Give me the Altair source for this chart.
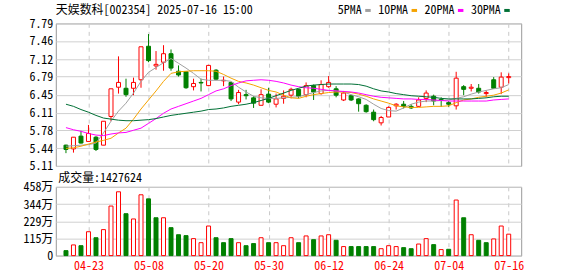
import json
import altair as alt
import pandas as pd

# ---------------- data ----------------
dates = ["04-18", "04-21", "04-22", "04-23", "04-24", "04-25", "04-28", "04-29", "04-30", "05-06",
         "05-07", "05-08", "05-09", "05-12", "05-13", "05-14", "05-15", "05-16", "05-19", "05-20",
         "05-21", "05-22", "05-23", "05-26", "05-27", "05-28", "05-29", "05-30", "06-03", "06-04",
         "06-05", "06-06", "06-09", "06-10", "06-11", "06-12", "06-13", "06-16", "06-17", "06-18",
         "06-19", "06-20", "06-23", "06-24", "06-25", "06-26", "06-27", "06-30", "07-01", "07-02",
         "07-03", "07-04", "07-07", "07-08", "07-09", "07-10", "07-11", "07-14", "07-15", "07-16"]

opens = [5.50, 5.43, 5.67, 5.57, 5.65, 5.50, 6.04, 6.59, 6.57, 6.57,
         6.73, 7.36, 6.99, 7.06, 7.22, 6.89, 6.88, 6.60, 6.68, 6.62,
         6.91, 6.71, 6.68, 6.31, 6.45, 6.39, 6.25, 6.46, 6.27, 6.38,
         6.44, 6.55, 6.45, 6.62, 6.47, 6.60, 6.56, 6.35, 6.43, 6.37,
         6.25, 6.12, 5.92, 6.03, 6.24, 6.27, 6.23, 6.23, 6.38, 6.42,
         6.36, 6.30, 6.24, 6.60, 6.57, 6.57, 6.47, 6.73, 6.59, 6.77]
closes = [5.42, 5.65, 5.54, 5.72, 5.42, 5.95, 6.56, 6.68, 6.45, 6.68,
          7.35, 7.09, 7.02, 7.22, 6.95, 6.82, 6.58, 6.66, 6.67, 7.00,
          6.74, 6.72, 6.37, 6.49, 6.43, 6.29, 6.45, 6.31, 6.37, 6.42,
          6.55, 6.42, 6.62, 6.50, 6.64, 6.68, 6.44, 6.48, 6.35, 6.28,
          6.13, 5.98, 6.02, 6.21, 6.27, 6.23, 6.20, 6.35, 6.48, 6.33,
          6.34, 6.27, 6.76, 6.55, 6.59, 6.50, 6.49, 6.57, 6.78, 6.79]
highs = [5.51, 5.65, 5.77, 5.88, 5.67, 5.95, 6.56, 7.17, 6.75, 6.77,
         7.35, 7.59, 7.27, 7.38, 7.30, 7.00, 6.89, 6.75, 6.75, 7.01,
         6.93, 6.79, 6.69, 6.54, 6.54, 6.42, 6.55, 6.58, 6.47, 6.53,
         6.58, 6.56, 6.68, 6.64, 6.72, 6.80, 6.61, 6.52, 6.45, 6.38,
         6.27, 6.17, 6.05, 6.23, 6.29, 6.33, 6.27, 6.40, 6.53, 6.45,
         6.40, 6.33, 6.88, 6.63, 6.65, 6.65, 6.53, 6.78, 6.87, 6.85]
lows = [5.35, 5.36, 5.53, 5.57, 5.39, 5.50, 5.95, 6.47, 6.41, 6.44,
        6.58, 7.06, 6.92, 6.90, 6.90, 6.79, 6.56, 6.53, 6.51, 6.61,
        6.72, 6.61, 6.33, 6.27, 6.36, 6.20, 6.25, 6.29, 6.21, 6.28,
        6.38, 6.38, 6.40, 6.35, 6.45, 6.58, 6.40, 6.33, 6.33, 6.13,
        6.11, 5.95, 5.87, 6.03, 6.17, 6.19, 6.18, 6.22, 6.31, 6.25,
        6.22, 6.22, 6.17, 6.44, 6.51, 6.47, 6.40, 6.57, 6.46, 6.66]

ma5 = [5.48, 5.49, 5.50, 5.51, 5.54, 5.73, 5.95, 6.14, 6.29, 6.48,
       6.70, 6.87, 6.96, 7.05, 7.13, 7.04, 6.95, 6.85, 6.74, 6.72,
       6.72, 6.72, 6.70, 6.59, 6.50, 6.42, 6.39, 6.38, 6.38, 6.39,
       6.40, 6.41, 6.45, 6.49, 6.52, 6.53, 6.52, 6.50, 6.45, 6.41,
       6.36, 6.27, 6.19, 6.15, 6.14, 6.20, 6.27, 6.31, 6.33, 6.33,
       6.34, 6.35, 6.38, 6.41, 6.46, 6.50, 6.53, 6.56, 6.58, 6.64]
ma10 = [5.44, 5.45, 5.48, 5.52, 5.56, 5.59, 5.63, 5.73, 5.82, 5.99,
        6.18, 6.35, 6.52, 6.70, 6.85, 6.88, 6.89, 6.90, 6.90, 6.90,
        6.89, 6.83, 6.76, 6.70, 6.67, 6.63, 6.58, 6.53, 6.50, 6.44,
        6.39, 6.38, 6.42, 6.45, 6.47, 6.49, 6.50, 6.50, 6.49, 6.46,
        6.42, 6.37, 6.33, 6.29, 6.24, 6.22, 6.21, 6.21, 6.22, 6.23,
        6.23, 6.24, 6.30, 6.35, 6.37, 6.40, 6.42, 6.44, 6.48, 6.54]
ma20 = [5.83, 5.79, 5.76, 5.72, 5.69, 5.68, 5.71, 5.73, 5.74, 5.78,
        5.82, 5.91, 6.00, 6.10, 6.18, 6.23, 6.28, 6.33, 6.38, 6.45,
        6.52, 6.56, 6.62, 6.67, 6.71, 6.72, 6.73, 6.72, 6.70, 6.67,
        6.63, 6.60, 6.58, 6.57, 6.55, 6.53, 6.52, 6.51, 6.50, 6.48,
        6.45, 6.42, 6.40, 6.39, 6.38, 6.37, 6.37, 6.36, 6.36, 6.35,
        6.34, 6.33, 6.33, 6.33, 6.33, 6.33, 6.33, 6.35, 6.36, 6.37]
ma30 = [6.27, 6.23, 6.17, 6.12, 6.06, 6.01, 5.99, 5.97, 5.96, 5.96,
        5.97, 5.98, 6.00, 6.03, 6.06, 6.08, 6.10, 6.12, 6.14, 6.17,
        6.18, 6.20, 6.23, 6.25, 6.27, 6.30, 6.34, 6.38, 6.43, 6.48,
        6.53, 6.57, 6.61, 6.63, 6.64, 6.65, 6.65, 6.65, 6.65, 6.64,
        6.61, 6.56, 6.52, 6.50, 6.47, 6.45, 6.43, 6.42, 6.41, 6.40,
        6.38, 6.37, 6.37, 6.37, 6.37, 6.38, 6.39, 6.41, 6.42, 6.42]

# volume in 万 (10k shares)
volumes = [33, 71, 66, 159, 119, 173, 330, 425, 279, 244,
           405, 378, 252, 252, 186, 139, 133, 113, 86, 197,
           119, 86, 113, 86, 66, 80, 119, 86, 86, 66,
           119, 86, 131, 106, 131, 139, 102, 60, 60, 60,
           60, 60, 46, 66, 60, 53, 46, 77, 113, 73,
           40, 42, 370, 252, 139, 102, 86, 111, 197, 142.76]
# 1 = red hollow bar, 0 = green filled bar (as drawn)
vol_up = [0, 1, 0, 1, 0, 1, 1, 1, 0, 1,
          1, 0, 0, 1, 0, 0, 0, 1, 1, 1,
          0, 0, 0, 1, 0, 0, 1, 0, 1, 1,
          1, 0, 1, 0, 1, 1, 0, 1, 0, 0,
          0, 0, 1, 1, 1, 0, 0, 1, 1, 0,
          1, 0, 1, 0, 1, 0, 0, 1, 1, 1]

price_ticks = [5.11, 5.44, 5.78, 6.11, 6.45, 6.79, 7.12, 7.46, 7.79]
vol_ticks = [0, 114.5, 229, 343.5, 458]
vol_tick_labels = ["0", "115万", "229万", "344万", "458万"]
date_tick_idx = [3, 11, 19, 27, 35, 43, 51, 59]

title_text = "天娱数科[002354] 2025-07-16 15:00"
vol_label = "成交量:1427624"
ma_names = ["5PMA", "10PMA", "20PMA", "30PMA"]
ma_cols = ["ma5", "ma10", "ma20", "ma30"]
ma_colors = ["#a0a0a0", "#f5a300", "#ff00ff", "#006f35"]

# ---------------- chart ----------------
RED = "#ff0000"
GREEN = "#008000"
FONT = "Noto Sans Mono CJK SC, DejaVu Sans Mono, monospace"
W, PH, VH = 467, 143, 69

df = pd.DataFrame({
    "i": list(range(len(dates))), "open": opens, "high": highs, "low": lows,
    "close": closes, "ma5": ma5, "ma10": ma10, "ma20": ma20, "ma30": ma30,
    "vol": volumes, "vup": vol_up,
})

xs = alt.Scale(domain=[-0.69, 60.0], nice=False, zero=False)
ps = alt.Scale(domain=[price_ticks[0], price_ticks[-1]], nice=False, zero=False)
vs = alt.Scale(domain=[0, vol_ticks[-1]], nice=False)

grid_x = dict(grid=True, gridDash=[4, 4], gridColor="#c8c8c8", gridWidth=1)
x_top_axis = alt.Axis(values=date_tick_idx, labels=False, ticks=False, domain=False,
                      title=None, **grid_x)
x_bot_axis = alt.Axis(values=date_tick_idx, labelExpr=json.dumps(dates) + "[datum.value]",
                      ticks=False, tickSize=0, domain=False, title=None, labelColor=RED,
                      labelFont=FONT, labelFontSize=12, labelPadding=5, labelAngle=0,
                      labelFlush=False, labelOverlap=False, **grid_x)
y_common = dict(ticks=False, tickSize=0, domain=False, grid=True, gridColor="#d0d0d0",
                labelFont=FONT, labelFontSize=12, labelColor="#000000", labelPadding=3,
                minExtent=55, maxExtent=55, title=None, labelOverlap=False)
y_price_axis = alt.Axis(values=price_ticks, format=".2f", **y_common)
expr = "''"
for v, lab in reversed(list(zip(vol_ticks, vol_tick_labels))):
    expr = f"datum.value == {v} ? '{lab}' : ({expr})"
y_vol_axis = alt.Axis(values=vol_ticks, labelExpr=expr, **y_common)

base = alt.Chart(df)
xt = alt.X("i:Q", scale=xs, axis=x_top_axis, title=None)
xb = alt.X("i:Q", scale=xs, axis=x_bot_axis, title=None)


def py(field):
    return alt.Y(field + ":Q", scale=ps, axis=y_price_axis, title=None)


up = "datum.close >= datum.open"
dn = "datum.close < datum.open"
layers = [
    base.transform_filter(up).mark_rule(color=RED, strokeWidth=1).encode(x=xt, y=py("low"), y2="high:Q"),
    base.transform_filter(dn).mark_rule(color=GREEN, strokeWidth=1).encode(x=xt, y=py("low"), y2="high:Q"),
    base.transform_filter(up).mark_bar(width=4, fill="white", stroke=RED, strokeWidth=1)
        .encode(x=xt, y=py("open"), y2="close:Q"),
    base.transform_filter(dn).mark_bar(width=4, fill=GREEN, stroke=GREEN, strokeWidth=1)
        .encode(x=xt, y=py("open"), y2="close:Q"),
]
for col, color in zip(ma_cols, ma_colors):
    layers.append(base.mark_line(color=color, strokeWidth=1).encode(x=xt, y=py(col)))

# title and legend (text above the plot)
layers.append(alt.Chart(pd.DataFrame({"t": [title_text]})).mark_text(
    align="left", baseline="middle", font=FONT, fontSize=12, color="#000000"
).encode(x=alt.value(0), y=alt.value(-13), text="t:N"))
for k, (name, color) in enumerate(zip(ma_names, ma_colors)):
    xe = 307 + 46.5 * k
    layers.append(alt.Chart(pd.DataFrame({"t": [name]})).mark_text(
        align="right", baseline="middle", font=FONT, fontSize=12, color="#000000"
    ).encode(x=alt.value(xe), y=alt.value(-13), text="t:N"))
    layers.append(alt.Chart(pd.DataFrame({"t": [name]})).mark_rect(color=color).encode(
        x=alt.value(xe + 3.5), x2=alt.value(xe + 9), y=alt.value(-14.5), y2=alt.value(-11.5)))
# invisible frame that fixes the page extent
layers.append(alt.Chart(pd.DataFrame({"t": [0]})).mark_rule(opacity=0, strokeWidth=0).encode(
    x=alt.value(-55), x2=alt.value(523), y=alt.value(-22)))

top = alt.layer(*layers).properties(width=W, height=PH)

vol_layers = [
    base.transform_filter("datum.vup == 1").mark_bar(width=4, fill="white", stroke=RED, strokeWidth=1)
        .encode(x=xb, y=alt.Y("vol:Q", scale=vs, axis=y_vol_axis, title=None)),
    base.transform_filter("datum.vup == 0").mark_bar(width=4, fill=GREEN, stroke=GREEN, strokeWidth=1)
        .encode(x=xb, y=alt.Y("vol:Q", scale=vs, axis=y_vol_axis, title=None)),
    alt.Chart(pd.DataFrame({"t": [vol_label]})).mark_text(
        align="left", baseline="middle", font=FONT, fontSize=12, color="#000000"
    ).encode(x=alt.value(2.5), y=alt.value(-8.5), text="t:N"),
    alt.Chart(pd.DataFrame({"t": [0]})).mark_rule(opacity=0, strokeWidth=0).encode(
        x=alt.value(0), x2=alt.value(10), y=alt.value(90)),
]
bottom = alt.layer(*vol_layers).properties(width=W, height=VH)

chart = (
    alt.vconcat(top, bottom, spacing=21, bounds="flush")
    .properties(padding=0, background="white")
    .configure_view(stroke="#999999", strokeWidth=1)
)

chart.save("out.html", embed_options={"renderer": "svg", "actions": False})
